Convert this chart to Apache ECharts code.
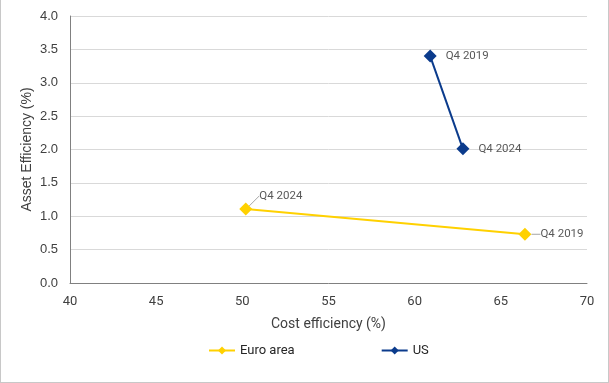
<!DOCTYPE html>
<html><head><meta charset="utf-8">
<script src="https://cdn.jsdelivr.net/npm/echarts@6/dist/echarts.min.js"></script>
<style>
html,body{margin:0;padding:0;background:#fff;}
#wrap{position:relative;width:609px;height:383px;box-sizing:border-box;border-left:1px solid #c8c8c8;border-right:1px solid #c8c8c8;border-bottom:1px solid #c8c8c8;}
#c{position:absolute;left:-1px;top:0;width:609px;height:383px;}
</style></head>
<body><div id="wrap"><div id="c"></div></div>
<script>
var seriesNames = ['Euro area', 'US'];
var pointLabels = ['Q4 2019', 'Q4 2024'];
var euroCost = [66.4, 50.2];
var euroAsset = [0.73, 1.11];
var usCost = [60.9, 62.8];
var usAsset = [3.40, 2.01];
var xTicks = [40, 45, 50, 55, 60, 65, 70];
var yTicks = [0, 0.5, 1, 1.5, 2, 2.5, 3, 3.5, 4];

function pts(xs, ys) { return xs.map(function (x, i) { return { value: [x, ys[i]], name: pointLabels[i] }; }); }

var chart = echarts.init(document.getElementById('c'));
var lblStyle = { show: true, position: 'right', distance: 9, formatter: '{b}', color: '#595959', fontSize: 11.5, fontFamily: 'Roboto, Arial, sans-serif' };
chart.setOption({
  animation: false,
  grid: { left: 70, right: 22, top: 16, bottom: 100 },
  xAxis: {
    type: 'value', min: xTicks[0], max: xTicks[xTicks.length - 1], interval: 5,
    name: 'Cost efficiency (%)', nameLocation: 'middle', nameGap: 34,
    nameTextStyle: { color: '#404040', fontSize: 14, fontFamily: 'Roboto, Arial, sans-serif' },
    axisLine: { lineStyle: { color: '#808080', width: 1 } }, axisTick: { show: false },
    splitLine: { show: false },
    axisLabel: { color: '#404040', fontSize: 13, margin: 12, fontFamily: 'Roboto, Arial, sans-serif' }
  },
  yAxis: {
    type: 'value', min: yTicks[0], max: yTicks[yTicks.length - 1], interval: 0.5,
    name: 'Asset Efficiency (%)', nameLocation: 'middle', nameGap: 36, nameMoveOverlap: false,
    nameTextStyle: { color: '#404040', fontSize: 14, fontFamily: 'Arial, sans-serif' },
    axisLine: { show: true, lineStyle: { color: '#808080', width: 1 } }, axisTick: { show: false },
    splitLine: { lineStyle: { color: '#d9d9d9', width: 1 } },
    axisLabel: { color: '#404040', fontSize: 13, margin: 12, fontFamily: 'Arial, sans-serif', formatter: function (v) { return v.toFixed(1); } }
  },
  legend: {
    bottom: 21, left: 203, itemGap: 86, itemWidth: 26, itemHeight: 10,
    textStyle: { color: '#262626', fontSize: 13, fontFamily: 'Roboto, Arial, sans-serif' },
    data: seriesNames
  },
  series: [
    {
      name: seriesNames[0], type: 'line', data: pts(euroCost, euroAsset),
      symbol: 'diamond', symbolSize: 13, itemStyle: { color: '#FFD100' },
      lineStyle: { color: '#FFD100', width: 2 },
      label: lblStyle,
      labelLine: { show: true, lineStyle: { color: '#a6a6a6', width: 1 } },
      labelLayout: function (p) { return p.dataIndex === 1 ? { dx: -2, dy: -13 } : {}; }
    },
    {
      name: seriesNames[1], type: 'line', data: pts(usCost, usAsset),
      symbol: 'diamond', symbolSize: 13, itemStyle: { color: '#0B3B8C' },
      lineStyle: { color: '#0B3B8C', width: 2 },
      label: lblStyle
    }
  ]
});
</script></body></html>
